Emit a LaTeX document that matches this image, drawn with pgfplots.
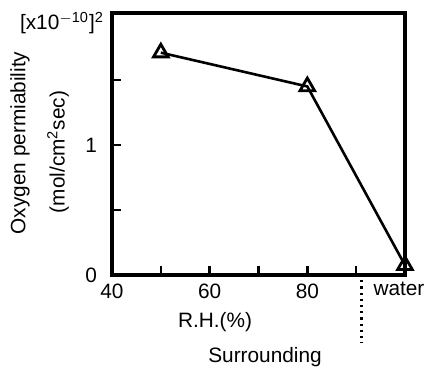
\documentclass[border=0pt]{standalone}
\usepackage{fontspec}
\setmainfont{Liberation Sans}
\usepackage{pgfplots}
\pgfplotsset{compat=1.18}
\begin{document}
\begin{tikzpicture}
\useasboundingbox (-56pt,-46.5pt) rectangle (158.5pt,137.5pt);
\begin{axis}[
  at={(0,0)}, anchor=south west,
  scale only axis, width=146.5pt, height=131pt,
  xmin=40, xmax=100, ymin=0, ymax=2.015,
  xtick={40,60,80}, xticklabels={40,60,80},
  extra x ticks={100}, extra x tick labels={water},
  extra x tick style={xticklabel style={xshift=-3pt, yshift=1pt}},
  minor xtick={50,70,90},
  ytick={0,1}, minor ytick={0.5,1.5},
  tick align=inside, xtick pos=bottom, ytick pos=left,
  major tick length=4.5pt, minor tick length=4.5pt,
  every tick/.style={line width=1.2pt, black},
  every minor tick/.style={line width=1.2pt, black},
  axis line style={line width=1.6pt},
  /pgf/number format/assume math mode=true,
  ticklabel style={font=\fontsize{10.4}{12}\selectfont},
  yticklabel style={xshift=-4pt},
  xticklabel style={yshift=-1pt},
  clip=false,
]
\addplot[black, line width=1.3pt, mark=triangle, mark size=4.2pt,
  mark options={fill=white, line width=1.4pt}]
  coordinates {(50,1.71) (80,1.45) (100,0.075)};
\draw[dotted, line width=1.1pt] (axis cs:91.1,-0.04) -- (axis cs:91.1,-0.52);
\end{axis}
\node[font=\fontsize{10.4}{12}\selectfont] at (51.5pt,-23.5pt) {R.H.(\%)};
\node[font=\fontsize{10.4}{12}\selectfont] at (76.5pt,-41pt) {Surrounding};
\node[font=\fontsize{10.4}{12}\selectfont, rotate=90] at (-46pt,66pt) {Oxygen permiability};
\node[font=\fontsize{10.4}{12}\selectfont, rotate=90] at (-27pt,61.5pt) {(mol/cm\textsuperscript{2}sec)};
\node[font=\fontsize{10.4}{12}\selectfont] at (-25pt,126pt) {[x10\textsuperscript{$-$10}]\textsuperscript{2}};
\end{tikzpicture}
\end{document}
